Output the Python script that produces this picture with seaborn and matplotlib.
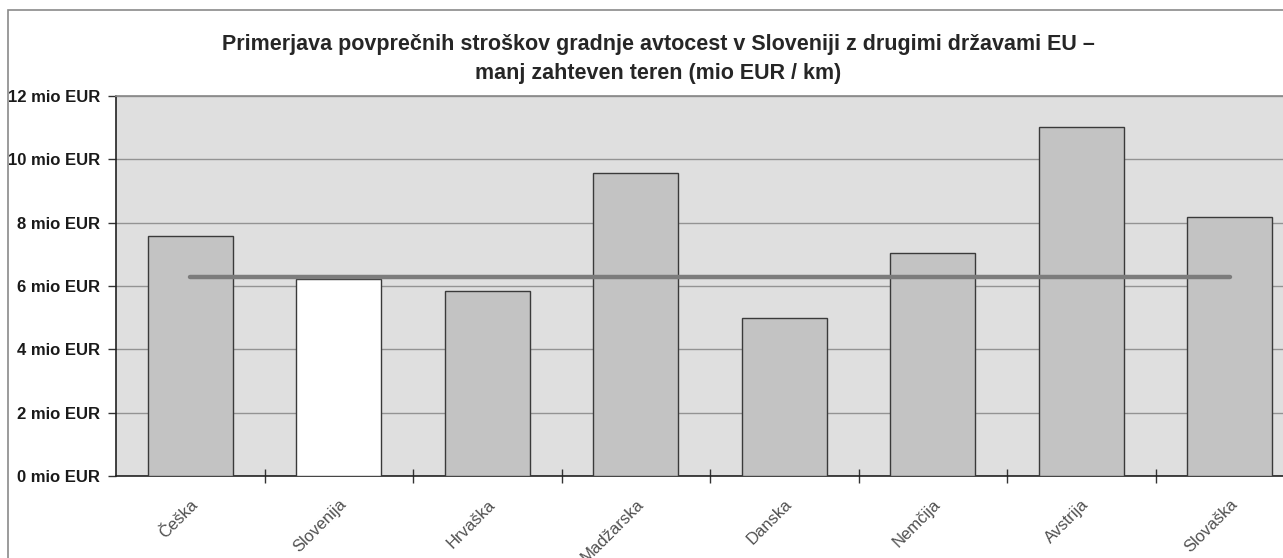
import numpy as np
import matplotlib
matplotlib.use("Agg")
import matplotlib.pyplot as plt
import seaborn as sns
from matplotlib.patches import Rectangle
from matplotlib.ticker import FixedLocator, FuncFormatter

# Average motorway construction cost per km, less demanding terrain (mio EUR / km)
countries = ["Češka", "Slovenija", "Hrvaška", "Madžarska", "Danska", "Nemčija", "Avstrija", "Slovaška"]
cost = [7.57, 6.22, 5.85, 9.57, 4.99, 7.03, 11.01, 8.19]
slovenia_level = [6.3] * len(countries)
y_ticks = [0, 2, 4, 6, 8, 10, 12]

title = ("Primerjava povprečnih stroškov gradnje avtocest v Sloveniji z drugimi državami EU –\n"
         "manj zahteven teren (mio EUR / km)")

sns.set_theme(style="white")
plt.rcParams["font.family"] = ["Liberation Sans", "DejaVu Sans"]

fig = plt.figure(figsize=(12.83, 5.58), dpi=100)
fig.patch.set_facecolor("white")

# outer chart frame (runs off the right and bottom edges)
fig.patches.append(Rectangle((8 / 1283, -0.1), 1.2, 1 - 10 / 558 + 0.1,
                             transform=fig.transFigure, fill=False,
                             edgecolor="#8a8a8a", linewidth=1.2, zorder=0))

ax = fig.add_axes([116 / 1283, 82 / 558, 1188 / 1283, 380 / 558])
ax.set_facecolor("#dfdfdf")

bar_colors = ["#ffffff" if c == "Slovenija" else "#c3c3c3" for c in countries]
sns.barplot(x=countries, y=cost, hue=countries, palette=bar_colors, legend=False,
            width=0.575, edgecolor="#3a3a3a", linewidth=1.0, saturation=1, ax=ax, zorder=3)

sns.lineplot(x=countries, y=slovenia_level, color="#7c7c7c", linewidth=3.2,
             ax=ax, zorder=4, sort=False)

ax.set_xlim(-0.5, len(countries) - 0.5)
ax.set_ylim(0, 12)
ax.set_yticks(y_ticks)
ax.yaxis.set_major_formatter(FuncFormatter(lambda v, p: f"{int(v)} mio EUR"))
ax.grid(axis="y", color="#939393", linewidth=1.0, zorder=1)
ax.set_axisbelow(True)

for lab in ax.get_yticklabels():
    lab.set_fontweight("bold")
    lab.set_fontsize(12)
    lab.set_color("#1a1a1a")
ax.tick_params(axis="y", direction="out", length=6, width=1, color="#333333", pad=5.5, left=True)

# category labels at bar centres, tick marks at category boundaries
ax.set_xticks(range(len(countries)))
ax.set_xticklabels(countries, rotation=45, ha="right", rotation_mode="anchor",
                   fontsize=12, color="#505050")
ax.tick_params(axis="x", which="major", length=0, pad=15)
ax.xaxis.set_minor_locator(FixedLocator(np.arange(0.5, len(countries) - 0.5, 1.0)))
ax.tick_params(axis="x", which="minor", direction="inout", length=10, width=1,
               color="#333333", bottom=True)

ax.set_xlabel("")
ax.set_ylabel("")
for side in ["left", "bottom"]:
    ax.spines[side].set_color("#222222")
    ax.spines[side].set_linewidth(1.2)
ax.spines["top"].set_color("#8a8a8a")
ax.spines["right"].set_color("#8a8a8a")

fig.text(658 / 1283, 1 - 59 / 558, title, ha="center", va="center",
         fontsize=15.5, fontweight="bold", color="#262626", linespacing=1.5)

fig.savefig("out.png", dpi=100)
